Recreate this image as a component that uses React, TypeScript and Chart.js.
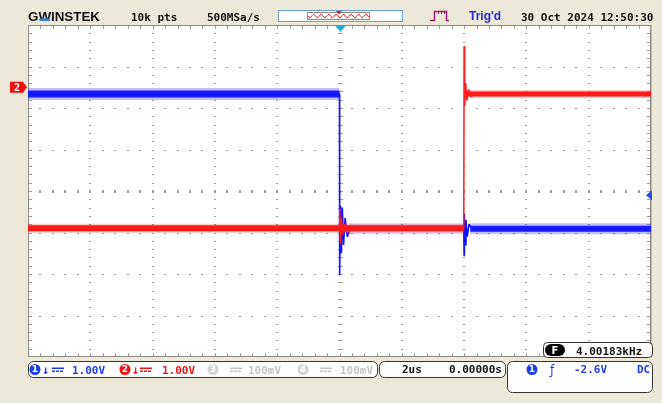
import React, { useEffect, useRef } from "react";
import { Chart, registerables } from "chart.js";

Chart.register(...registerables);

// ---------------- data ----------------
// horizontal: time in µs (2 µs/div, 10 div), trigger at 0
const timeMin = -10;
const timeMax = 10;
// vertical: volts (1 V/div, 8 div), CH1/CH2 ground at 0 V
const voltMin = -6.5;
const voltMax = 1.5;

const ch1EdgeTime = 0;
const ch2EdgeTime = 4;
const ch1High = -0.16;
const ch1Low = -3.41;
const ch2High = -0.16;
const ch2Low = -3.4;
const triggerLevel = -2.6;

// CH1 (blue) trace with ringing at the edges
const ch1Time = [-10, 0, 0.005, 0.03, 0.06, 0.09, 0.13, 0.18, 0.25, 0.35, 3.99, 4.0, 4.01, 4.03, 4.06, 4.1, 4.16, 4.25, 10];
const ch1Volt = [-0.16, -0.16, -4.53, -2.85, -4.0, -2.9, -3.8, -3.15, -3.6, -3.41, -3.41, -4.05, -3.05, -3.8, -3.2, -3.6, -3.3, -3.41, -3.41];

// CH2 (red) trace with ringing at the edges
const ch2Time = [-10, -0.01, 0.005, 0.03, 0.06, 0.1, 0.16, 0.25, 3.99, 4.0, 4.02, 4.05, 4.09, 4.14, 4.22, 4.35, 10];
const ch2Volt = [-3.4, -3.4, -2.92, -3.75, -3.15, -3.55, -3.3, -3.4, -3.4, 0.99, -0.45, 0.1, -0.32, -0.05, -0.22, -0.16, -0.16];

// texts
const brand = "GWINSTEK";
const recordLength = "10k pts";
const sampleRate = "500MSa/s";
const trigStatus = "Trig'd";
const timestamp = "30 Oct 2024 12:50:30";
const chScales = ["1.00V", "1.00V", "100mV", "100mV"];
const timebase = "2us";
const hDelay = "0.00000s";
const trigLevelText = "-2.6V";
const trigCoupling = "DC";
const freqText = "4.00183kHz";

// ---------------- styles ----------------
const BG = "#ECE9D8";
const BLUE_TXT = "#1e3cf0";
const RED_TXT = "#f01414";
const GRAY_TXT = "#c4c4c4";
const MONO = "'DejaVu Sans Mono', monospace";

const pts = (t: number[], v: number[]) => t.map((x, i) => ({ x, y: v[i] }));

function rr(ctx: CanvasRenderingContext2D, x: number, y: number, w: number, h: number, r: number) {
  ctx.beginPath();
  ctx.moveTo(x + r, y);
  ctx.arcTo(x + w, y, x + w, y + h, r);
  ctx.arcTo(x + w, y + h, x, y + h, r);
  ctx.arcTo(x, y + h, x, y, r);
  ctx.arcTo(x, y, x + w, y, r);
  ctx.closePath();
}

function badge(ctx: CanvasRenderingContext2D, cx: number, cy: number, fill: string, label: string) {
  ctx.fillStyle = fill;
  ctx.beginPath();
  ctx.arc(cx, cy, 5.5, 0, Math.PI * 2);
  ctx.fill();
  ctx.fillStyle = "#fff";
  ctx.font = "bold 9px 'DejaVu Sans'";
  ctx.textAlign = "center";
  ctx.textBaseline = "middle";
  ctx.fillText(label, cx, cy + 0.5);
  ctx.textAlign = "left";
  ctx.textBaseline = "alphabetic";
}

function dcSym(ctx: CanvasRenderingContext2D, x: number, y: number, w: number, color: string) {
  ctx.fillStyle = color;
  ctx.fillRect(x, y, w, 1.5);
  for (let d = 0; d < w; d += 4) ctx.fillRect(x + d, y + 3, Math.min(3, w - d), 1.5);
}

const scopePlugin = {
  id: "scope",
  beforeDraw(chart: any) {
    const { ctx, chartArea: a } = chart;
    ctx.save();
    ctx.fillStyle = BG;
    ctx.fillRect(0, 0, chart.width, chart.height);
    ctx.fillStyle = "#fff";
    ctx.fillRect(a.left, a.top, a.right - a.left, a.bottom - a.top);
    ctx.restore();
  },
  beforeDatasetsDraw(chart: any) {
    const { ctx, chartArea: a, scales } = chart;
    const xs = scales.x;
    const ys = scales.y;
    const xsub: number[] = [];
    const ysub: number[] = [];
    for (let k = 0; k <= 50; k++) xsub.push(Math.round(xs.getPixelForValue(timeMin + (k * (timeMax - timeMin)) / 50)));
    for (let k = 0; k <= 40; k++) ysub.push(Math.round(ys.getPixelForValue(voltMax - (k * (voltMax - voltMin)) / 40)));
    ctx.save();
    ctx.fillStyle = "#9c9c9c";
    // dotted major lines
    for (let i = 1; i <= 9; i++) {
      if (i === 5) continue;
      for (let k = 1; k < 40; k++) ctx.fillRect(xsub[i * 5] - 1, ysub[k], 2, 1);
    }
    for (let j = 1; j <= 7; j++) {
      if (j === 4) continue;
      for (let k = 1; k < 50; k++) ctx.fillRect(xsub[k] - 1, ysub[j * 5], 2, 1);
    }
    // center cross ticks
    const xc = xsub[25];
    const yc = ysub[20];
    for (let k = 1; k < 40; k++) ctx.fillRect(xc - 2, ysub[k], 5, 1);
    for (let k = 1; k < 50; k++) ctx.fillRect(xsub[k] - 1, yc - 1, 2, 3);
    // edge ticks
    for (let k = 1; k < 50; k++) {
      ctx.fillRect(xsub[k], a.top, 1, 4);
      ctx.fillRect(xsub[k], a.bottom - 4, 1, 4);
    }
    for (let k = 1; k < 40; k++) {
      ctx.fillRect(a.left, ysub[k], 4, 1);
      ctx.fillRect(a.right - 4, ysub[k], 4, 1);
    }
    ctx.strokeStyle = "#8a8a8a";
    ctx.lineWidth = 1;
    ctx.strokeRect(a.left + 0.5, a.top + 0.5, a.right - a.left - 1, a.bottom - a.top - 1);
    ctx.fillStyle = "#b8b8b8";
    ctx.fillRect(a.right, a.top, 1, a.bottom - a.top + 1);
    ctx.restore();
  },
  afterDatasetsDraw(chart: any) {
    const { ctx, chartArea: a, scales } = chart;
    const xs = scales.x;
    const ys = scales.y;
    ctx.save();

    // trigger position marker (top)
    const xt = xs.getPixelForValue(0) + 1;
    ctx.fillStyle = "#2aa8e2";
    ctx.beginPath();
    ctx.moveTo(xt - 6, a.top);
    ctx.lineTo(xt + 6, a.top);
    ctx.lineTo(xt, a.top + 7);
    ctx.closePath();
    ctx.fill();

    // trigger level marker (right)
    const yt = ys.getPixelForValue(triggerLevel);
    ctx.fillStyle = "#1e4fe0";
    ctx.beginPath();
    ctx.moveTo(a.right - 5, yt);
    ctx.lineTo(a.right + 1, yt - 5);
    ctx.lineTo(a.right + 1, yt + 5);
    ctx.closePath();
    ctx.fill();

    // CH2 ground marker (left)
    const yg = ys.getPixelForValue(0);
    ctx.fillStyle = "#f01010";
    ctx.beginPath();
    ctx.moveTo(10, yg - 5.5);
    ctx.lineTo(23, yg - 5.5);
    ctx.lineTo(27, yg);
    ctx.lineTo(23, yg + 5.5);
    ctx.lineTo(10, yg + 5.5);
    ctx.closePath();
    ctx.fill();
    ctx.fillStyle = "#fff";
    ctx.font = `bold 10px ${MONO}`;
    ctx.fillText("2", 14, yg + 4);

    // ---------- header ----------
    ctx.font = "bold 13px 'Liberation Sans'";
    const bw = ctx.measureText(brand).width;
    const s = 72 / bw;
    const gW = ctx.measureText("G").width * s;
    const wW = ctx.measureText("W").width * s;
    ctx.save();
    ctx.translate(28, 21);
    ctx.scale(s, 1);
    ctx.fillStyle = "#111";
    ctx.fillText(brand, 0, 0);
    ctx.restore();
    ctx.fillStyle = "#2f7ee0";
    ctx.fillRect(28 + gW + 1, 18.5, wW - 2, 2.5);

    ctx.fillStyle = "#111";
    ctx.font = `bold 11px ${MONO}`;
    ctx.fillText(recordLength, 131, 21);
    ctx.fillText(sampleRate, 207, 21);
    ctx.fillText(timestamp, 521, 21);

    // memory bar
    ctx.fillStyle = "#fff";
    ctx.fillRect(278, 10, 124, 11);
    ctx.strokeStyle = "#6f9fd8";
    ctx.strokeRect(278.5, 10.5, 124, 11);
    ctx.strokeStyle = "#8c8c8c";
    ctx.strokeRect(307.5, 12.5, 62, 7);
    ctx.strokeStyle = "#e02020";
    ctx.lineWidth = 1;
    ctx.beginPath();
    for (let x = 308; x <= 369; x += 1) {
      const y = 16 + 1.6 * Math.sin(((x - 308) / 7.5) * Math.PI * 2);
      if (x === 308) ctx.moveTo(x, y);
      else ctx.lineTo(x, y);
    }
    ctx.stroke();
    ctx.fillStyle = "#e02020";
    ctx.beginPath();
    ctx.moveTo(336, 11);
    ctx.lineTo(342, 11);
    ctx.lineTo(339, 14.5);
    ctx.closePath();
    ctx.fill();

    // trigger type icon
    ctx.strokeStyle = "#9b1c7a";
    ctx.lineWidth = 1.5;
    ctx.beginPath();
    ctx.moveTo(430, 20.5);
    ctx.lineTo(434.5, 20.5);
    ctx.lineTo(434.5, 11.5);
    ctx.lineTo(446.5, 11.5);
    ctx.lineTo(446.5, 20.5);
    ctx.lineTo(449, 20.5);
    ctx.stroke();
    ctx.lineWidth = 1;
    ctx.beginPath();
    [438.5, 441.5, 444.5].forEach((x) => {
      ctx.moveTo(x, 11);
      ctx.lineTo(x, 14);
    });
    ctx.stroke();

    ctx.fillStyle = "#2b2bd6";
    ctx.font = "bold 12px 'Liberation Sans'";
    ctx.fillText(trigStatus, 469, 19.5);

    // ---------- frequency box ----------
    rr(ctx, 543.5, 342.5, 109, 15, 4);
    ctx.fillStyle = "#fff";
    ctx.fill();
    ctx.strokeStyle = "#333";
    ctx.lineWidth = 1;
    ctx.stroke();
    rr(ctx, 545, 344, 20, 12, 6);
    ctx.fillStyle = "#000";
    ctx.fill();
    ctx.fillStyle = "#fff";
    ctx.font = "bold 10px 'DejaVu Sans'";
    ctx.textAlign = "center";
    ctx.fillText("F", 555, 354);
    ctx.textAlign = "left";
    ctx.fillStyle = "#111";
    ctx.font = `bold 11px ${MONO}`;
    ctx.fillText(freqText, 576, 354.5);

    // ---------- footer ----------
    rr(ctx, 28.5, 361.5, 349, 16, 5);
    ctx.fillStyle = "#fff";
    ctx.fill();
    ctx.strokeStyle = "#333";
    ctx.stroke();
    const chs = [
      { cx: 35, fill: "#1a40e8", col: BLUE_TXT, label: "1", arrow: true, dcx: 52, tx: 72 },
      { cx: 125, fill: "#f01010", col: RED_TXT, label: "2", arrow: true, dcx: 140, tx: 162 },
      { cx: 213, fill: "#d2d2d2", col: GRAY_TXT, label: "3", arrow: false, dcx: 230, tx: 248 },
      { cx: 303, fill: "#d2d2d2", col: GRAY_TXT, label: "4", arrow: false, dcx: 320, tx: 340 },
    ];
    chs.forEach((c, i) => {
      badge(ctx, c.cx, 369.5, c.fill, c.label);
      ctx.fillStyle = c.col;
      if (c.arrow) {
        ctx.font = `bold 12px ${MONO}`;
        ctx.fillText("↓", c.cx + 7, 374);
      }
      dcSym(ctx, c.dcx, 367.5, 12, c.col);
      ctx.fillStyle = c.col;
      ctx.font = `bold 11px ${MONO}`;
      ctx.fillText(chScales[i], c.tx, 373.5);
    });

    rr(ctx, 379.5, 361.5, 126, 16, 5);
    ctx.fillStyle = "#fff";
    ctx.fill();
    ctx.strokeStyle = "#333";
    ctx.stroke();
    ctx.fillStyle = "#111";
    ctx.font = `bold 11px ${MONO}`;
    ctx.fillText(timebase, 402, 373);
    ctx.fillText(hDelay, 449, 373);

    rr(ctx, 507.5, 361.5, 145, 31, 5);
    ctx.fillStyle = "#fff";
    ctx.fill();
    ctx.strokeStyle = "#333";
    ctx.stroke();
    badge(ctx, 532, 369.5, "#1a40e8", "1");
    ctx.fillStyle = BLUE_TXT;
    ctx.font = "12px 'DejaVu Sans'";
    ctx.fillText("ƒ", 550, 373.5);
    ctx.font = `bold 11px ${MONO}`;
    ctx.fillText(trigLevelText, 574, 373);
    ctx.fillText(trigCoupling, 637, 373);

    ctx.restore();
  },
};

const line = (data: any[], color: string, width: number, order: number) => ({
  data,
  borderColor: color,
  borderWidth: width,
  pointRadius: 0,
  tension: 0,
  fill: false,
  order,
  borderJoinStyle: "bevel" as const,
});

export default function App() {
  const ref = useRef<HTMLCanvasElement>(null);

  useEffect(() => {
    if (!ref.current) return;
    const ch1Edge = pts(ch1Time, ch1Volt);
    const ch2Edge = pts(ch2Time, ch2Volt);
    const ch1HighBand = [{ x: timeMin, y: ch1High }, { x: ch1EdgeTime, y: ch1High }];
    const ch1LowBandA = [{ x: ch1EdgeTime + 0.3, y: ch1Low }, { x: ch2EdgeTime, y: ch1Low }];
    const ch1LowBandB = [{ x: ch2EdgeTime + 0.2, y: ch1Low }, { x: timeMax, y: ch1Low }];
    const ch2LowBand = [{ x: timeMin, y: ch2Low }, { x: ch2EdgeTime, y: ch2Low }];
    const ch2HighBand = [{ x: ch2EdgeTime + 0.05, y: ch2High }, { x: timeMax, y: ch2High }];

    const chart = new Chart(ref.current, {
      type: "line",
      data: {
        datasets: [
          line(ch2Edge, "#ff1e1e", 1.5, 1),
          line(ch2LowBand, "rgb(255,22,22)", 6, 2),
          line(ch2HighBand, "rgb(255,22,22)", 5, 2),
          line(ch2LowBand, "rgba(255,70,70,0.3)", 9, 3),
          line(ch2HighBand, "rgba(255,70,70,0.3)", 8, 3),
          line(ch1Edge, "#1414ff", 1.6, 4),
          line(ch1HighBand, "rgb(26,26,255)", 7, 5),
          line(ch1LowBandB, "rgb(26,26,255)", 6, 5),
          line(ch1HighBand, "rgba(50,50,255,0.3)", 12, 6),
          line(ch1LowBandA, "rgba(50,50,255,0.2)", 11, 6),
          line(ch1LowBandB, "rgba(50,50,255,0.3)", 11, 6),
        ],
      },
      options: {
        animation: false,
        responsive: false,
        maintainAspectRatio: false,
        devicePixelRatio: 1,
        parsing: false,
        normalized: true,
        layout: { padding: { left: 28, top: 25, right: 11, bottom: 46 } },
        plugins: { legend: { display: false }, tooltip: { enabled: false } },
        events: [],
        scales: {
          x: { type: "linear", min: timeMin, max: timeMax, display: false },
          y: { type: "linear", min: voltMin, max: voltMax, display: false },
        },
      },
      plugins: [scopePlugin],
    });
    return () => chart.destroy();
  }, []);

  return (
    <div style={{ position: "absolute", left: 0, top: 0, width: 662, height: 403 }}>
      <canvas ref={ref} width={662} height={403} style={{ display: "block" }} />
    </div>
  );
}
